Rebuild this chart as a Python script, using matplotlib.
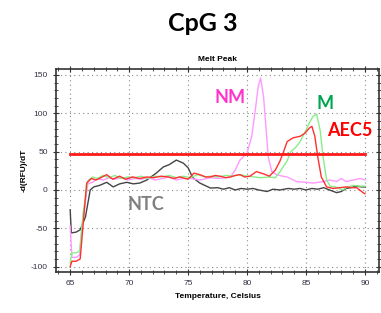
import matplotlib
matplotlib.use("Agg")
import matplotlib.pyplot as plt
from matplotlib.ticker import MultipleLocator

plt.rcParams["axes.unicode_minus"] = False

# Melt peak curves (temperature in C, -d(RFU)/dT)
ntc_t = [65.0, 65.1, 65.5, 65.85, 66.3, 66.7, 67.0, 67.5, 68.1, 68.65,
         69.2, 69.8, 70.35, 70.9, 71.5, 72.3, 72.9, 73.4, 74.0, 74.6,
         75.0, 75.4, 76.0, 76.9, 77.5, 78.0, 78.5, 79.0, 79.5, 80.0,
         80.5, 81.0, 81.7, 82.2, 82.8, 83.5, 84.0, 84.5, 85.0, 85.5,
         86.0, 86.5, 87.0, 87.6, 88.0, 88.4, 88.8, 89.3, 89.7, 90.0]
ntc_v = [-26, -56, -55, -52, -35, 0, 4, 6, 10, 4,
         8, 10, 8, 9, 13, 22, 30, 33, 39, 35,
         29, 16, 9, 2.5, 3, 1, 3, 0, 2, 1,
         2, 0, -2, 1, 0, 2, 1, 2, 0, 2,
         1, 3, 0, -3.5, -2, 2, 3, 5, 4, 4]

nm_t = [65.0, 65.15, 65.5, 65.8, 66.1, 66.5, 66.9, 67.3, 67.8, 68.3,
        68.8, 69.3, 69.9, 70.5, 71.0, 71.6, 72.2, 72.8, 73.4, 74.0,
        74.6, 75.2, 76.0, 76.9, 77.7, 78.6, 79.0, 79.4, 80.0, 80.4,
        80.7, 80.95, 81.15, 81.4, 81.6, 81.8, 82.1, 82.5, 83.0, 83.4,
        84.2, 85.0, 85.6, 86.5, 87.0, 87.6, 88.0, 88.4, 89.0, 89.6, 90.0]
nm_v = [-47, -88, -88, -85, -35, 8, 10, 15, 13, 16,
        14, 16, 13, 15, 14, 16, 13, 15, 17, 13,
        15, 15, 13, 16, 15, 17, 26, 39, 48, 70,
        104, 135, 146, 122, 83, 43, 24, 20, 18, 17,
        11, 10, 9, 11, 13, 11, 15, 11, 13, 15, 13]

m_t = [65.0, 65.15, 65.5, 65.8, 66.1, 66.5, 66.9, 67.3, 67.8, 68.3,
       68.8, 69.3, 69.9, 70.5, 71.0, 71.6, 72.2, 72.8, 73.4, 74.0,
       74.6, 75.2, 75.8, 76.4, 77.0, 77.6, 78.2, 78.8, 79.4, 80.0,
       80.6, 81.2, 81.8, 82.4, 82.8, 83.4, 83.7, 84.1, 84.5, 85.0,
       85.3, 85.6, 85.9, 86.2, 86.45, 86.75, 87.05, 87.5, 88.1, 88.4,
       89.0, 89.5, 90.0]
m_v = [-95, -82, -82, -80, -30, 12, 17, 15, 19, 16,
       19, 15, 17, 16, 18, 15, 18, 17, 19, 16,
       18, 16, 20, 17, 18, 17, 19, 18, 20, 18,
       17, 16, 17, 16, 24, 38, 50, 55, 63, 78,
       88, 96, 99, 78, 43, 13, 5, 4, 0, 3,
       6, 5, 5]

aec5_t = [65.0, 65.15, 65.5, 65.85, 66.1, 66.4, 66.8, 67.2, 67.6, 68.1,
          68.6, 69.2, 69.7, 70.3, 70.9, 71.5, 72.1, 72.7, 73.3, 73.8,
          74.3, 75.0, 75.5, 76.0, 76.5, 76.9, 77.3, 77.7, 78.2, 78.6,
          79.0, 79.4, 79.8, 80.25, 80.8, 81.4, 81.9, 82.4, 82.8, 83.1,
          83.4, 83.9, 84.5, 84.9, 85.3, 85.5, 85.75, 86.0, 86.3, 86.75,
          87.3, 87.9, 88.4, 88.9, 89.3, 89.8, 90.0]
aec5_v = [-100, -93, -93, -90, -45, 9, 15, 13, 16, 20,
          14, 18, 14, 17, 15, 17, 16, 18, 17, 15,
          17, 14, 22, 20, 17, 17, 19, 18, 16, 17,
          19, 20, 17, 18, 24, 21, 18, 26, 38, 50,
          63, 68, 70, 74, 81, 83, 70, 43, 17, 4,
          2, 3, 4, 3, 3, -3, -5]

threshold = 47
thr_range = [65, 90]

fig = plt.figure(figsize=(3.81, 3.13), dpi=100)
ax = fig.add_axes([0.147, 0.131, 0.848, 0.649])

ax.plot(ntc_t, ntc_v, color="#454545", lw=1.0)
ax.plot(nm_t, nm_v, color="#ff99ff", lw=1.0)
ax.plot(m_t, m_v, color="#88ee88", lw=1.0)
ax.plot(aec5_t, aec5_v, color="#ff3030", lw=1.0)
ax.plot(thr_range, [threshold, threshold], color="#ff1a1a", lw=2)

ax.set_xlim(63.8, 91.2)
ax.set_ylim(-107, 158)
ax.xaxis.set_major_locator(MultipleLocator(5))
ax.xaxis.set_minor_locator(MultipleLocator(1))
ax.yaxis.set_major_locator(MultipleLocator(50))
ax.yaxis.set_minor_locator(MultipleLocator(10))
ax.tick_params(which="both", direction="inout", top=True, right=True,
               color="#333333", labelsize=6, labelcolor="#333344")
ax.tick_params(which="major", length=5)
ax.tick_params(which="minor", length=3)
for lbl in ax.get_xticklabels() + ax.get_yticklabels():
    lbl.set_family("Liberation Sans")
ax.grid(True, which="major", linestyle=(0, (1, 3)), color="#888888", lw=0.8)
for s in ax.spines.values():
    s.set_color("#333333")
    s.set_linewidth(1.2)

ax.set_xlabel("Temperature, Celsius", fontsize=6, fontweight="bold",
              family="Liberation Sans", labelpad=4)
ax.set_ylabel("-d(RFU)/dT", fontsize=6, fontweight="bold",
              family="Liberation Sans", labelpad=2)
ax.set_title("Melt Peak", fontsize=6, fontweight="bold",
             family="Liberation Sans", pad=6)

fig.text(0.533, 0.925, "CpG 3", ha="center", va="center", fontsize=18,
         fontweight="bold", family="Lato")

lab = dict(ha="center", va="center", fontsize=13, fontweight="bold", family="Lato")
ax.text(78.6, 121, "NM", color="#ff33cc", **lab)
ax.text(86.6, 113, "M", color="#00a651", **lab)
ax.text(88.7, 78, "AEC5", color="#ff0000", **lab)
ax.text(71.4, -19.5, "NTC", color="#808080", **lab)

fig.savefig("out.png", dpi=100)
